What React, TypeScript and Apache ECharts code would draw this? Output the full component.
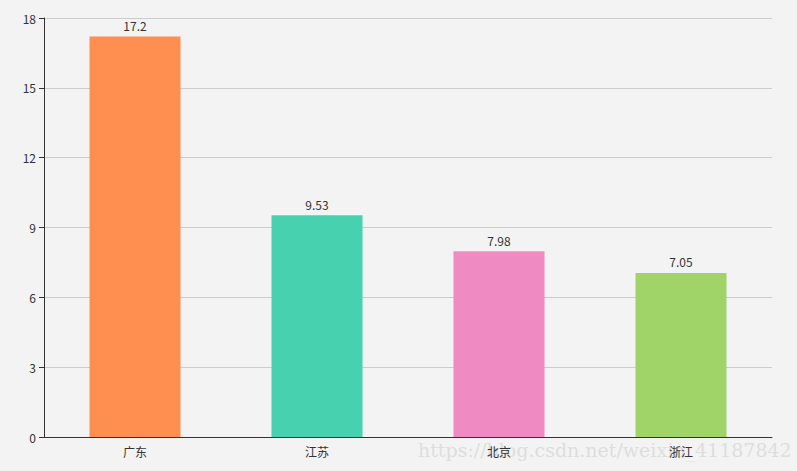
import React, { useEffect, useRef } from "react";
import * as echarts from "echarts";

const categories = ["广东", "江苏", "北京", "浙江"];
const values = [17.2, 9.53, 7.98, 7.05];
const colors = ["#ff8f50", "#48d1ae", "#f08ac2", "#a0d468"];
const yTicks = { min: 0, max: 18, interval: 3 };
const watermark = "https://blog.csdn.net/weixin_41187842";

export default function App() {
  const ref = useRef<HTMLDivElement>(null);
  useEffect(() => {
    document.body.style.margin = "0";
    const chart = echarts.init(ref.current!, null, { renderer: "svg" });
    chart.setOption({
      animation: false,
      backgroundColor: "#f3f3f3",
      textStyle: { fontFamily: "'Noto Sans CJK SC', sans-serif" },
      grid: { left: 44, right: 25, top: 18, bottom: 34 },
      xAxis: {
        type: "category",
        data: categories,
        axisLine: { lineStyle: { color: "#333" } },
        axisTick: { lineStyle: { color: "#333" } },
        axisLabel: { color: "#333", fontSize: 12, margin: 8 },
      },
      yAxis: {
        type: "value",
        min: yTicks.min,
        max: yTicks.max,
        interval: yTicks.interval,
        axisLine: { show: true, lineStyle: { color: "#333" } },
        axisTick: { show: true, lineStyle: { color: "#333" } },
        axisLabel: { color: "#333", fontSize: 12 },
        splitLine: { lineStyle: { color: "#cccccc" } },
      },
      series: [
        {
          type: "bar",
          barWidth: "50%",
          data: values.map((v, i) => ({ value: v, itemStyle: { color: colors[i] } })),
          label: { show: true, position: "top", color: "#333", fontSize: 12, distance: 5 },
        },
      ],
      graphic: [
        {
          type: "text",
          left: 418,
          top: 440,
          silent: true,
          z: -1,
          style: {
            text: watermark,
            fill: "rgba(200,200,200,0.5)",
            font: "19px 'DejaVu Serif', serif",
          },
        },
      ],
    });
    return () => chart.dispose();
  }, []);
  return <div ref={ref} style={{ width: 797, height: 471 }} />;
}
